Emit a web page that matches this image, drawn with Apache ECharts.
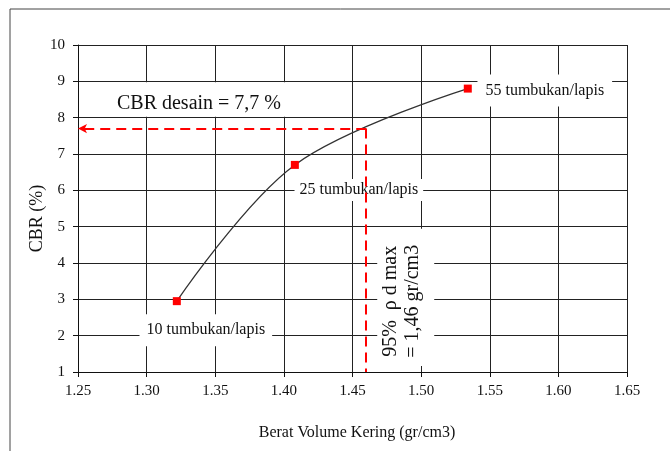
<!DOCTYPE html>
<html>
<head>
<meta charset="utf-8">
<script src="https://cdn.jsdelivr.net/npm/echarts@6/dist/echarts.min.js"></script>
<style>
html,body{margin:0;padding:0;background:#fff;}
#chart{width:670px;height:451px;}
</style>
</head>
<body>
<div id="chart"></div>
<script>
// ---- data ----
var dryDensity = [1.322, 1.408, 1.534];
var cbrValues = [2.95, 6.7, 8.8];
var blowLabels = ['10 tumbukan/lapis', '25 tumbukan/lapis', '55 tumbukan/lapis'];
var designDensity = 1.46;
var designCBR = 7.7;
var designCBRText = 'CBR desain = 7,7 %';
var densityText = '95%  \u03c1 d max\n= 1,46 gr/cm3';
var xAxisName = 'Berat Volume Kering (gr/cm3)';
var yAxisName = 'CBR (%)';

var FONT = '"Liberation Serif", "Times New Roman", serif';
var labelOffsets = [[29, 29], [64, 25], [77, 2]];
var labelPads = [[8, 7], [3, 5], [8, 8]];

var chart = echarts.init(document.getElementById('chart'), null, {renderer: 'canvas'});

var pts = dryDensity.map(function (x, i) {
  return {
    value: [x, cbrValues[i]],
    label: {
      show: true,
      formatter: blowLabels[i],
      position: 'inside',
      offset: labelOffsets[i],
      color: '#111',
      fontFamily: FONT,
      fontSize: 16,
      backgroundColor: '#fff',
      padding: labelPads[i]
    }
  };
});

var option = {
  animation: false,
  backgroundColor: '#fff',
  grid: {left: 78, right: 43, top: 45, bottom: 79, containLabel: false},
  xAxis: {
    type: 'value', min: 1.25, max: 1.65, interval: 0.05,
    name: xAxisName, nameLocation: 'middle', nameGap: 53, nameMoveOverlap: false,
    nameTextStyle: {fontFamily: FONT, fontSize: 16, color: '#111', padding: [0, 0, 0, 9]},
    axisLine: {show: true, onZero: false, lineStyle: {color: '#111', width: 1}},
    axisTick: {show: true, length: 5, lineStyle: {color: '#111'}},
    axisLabel: {fontFamily: FONT, fontSize: 15, color: '#111', margin: 12,
      formatter: function (v) { return v.toFixed(2); }},
    splitLine: {show: true, lineStyle: {color: '#222', width: 1}}
  },
  yAxis: {
    type: 'value', min: 1, max: 10, interval: 1,
    name: yAxisName, nameLocation: 'middle', nameGap: 32, nameMoveOverlap: false,
    nameTextStyle: {fontFamily: FONT, fontSize: 18, color: '#111', padding: [0, 20, 0, 0]},
    axisLine: {show: true, onZero: false, lineStyle: {color: '#111', width: 1}},
    axisTick: {show: true, length: 5, lineStyle: {color: '#111'}},
    axisLabel: {fontFamily: FONT, fontSize: 15, color: '#111', margin: 13},
    splitLine: {show: true, lineStyle: {color: '#222', width: 1}}
  },
  series: [{
    type: 'line',
    data: pts,
    smooth: 0.35,
    symbol: 'rect',
    symbolSize: 8,
    showAllSymbol: true,
    itemStyle: {color: '#ff0000'},
    lineStyle: {color: '#333', width: 1.3},
    z: 3,
    markLine: {
      silent: true,
      animation: false,
      symbol: ['none', 'arrow'],
      symbolSize: [7, 9],
      label: {show: false},
      lineStyle: {color: '#ff0000', width: 2, type: [10, 6]},
      data: [
        [{coord: [designDensity, designCBR], symbol: 'none'}, {coord: [1.25, designCBR], symbol: 'arrow'}],
        [{coord: [designDensity, designCBR], symbol: 'none'}, {coord: [designDensity, 1], symbol: 'none'}]
      ]
    }
  }]
};
chart.setOption(option);

// annotations anchored through the chart's scales
var p9 = chart.convertToPixel({gridIndex: 0}, [1.25, 9]);
var p8 = chart.convertToPixel({gridIndex: 0}, [1.45, 8]);
var p5 = chart.convertToPixel({gridIndex: 0}, [designDensity, 5]);
var p1 = chart.convertToPixel({gridIndex: 0}, [1.50, 1]);

chart.setOption({
  graphic: [
    {type: 'rect', silent: true, z: 100,
      shape: {x: 10, y: 9, width: 720, height: 520},
      style: {fill: 'none', stroke: '#444', lineWidth: 1}},
    {type: 'rect', silent: true, z: 50,
      shape: {x: p9[0] + 2, y: p9[1] + 1, width: p8[0] - p9[0] - 40, height: p8[1] - p9[1] - 2},
      style: {fill: '#fff'}},
    {type: 'text', silent: true, z: 51,
      x: p9[0] + 121, y: (p9[1] + p8[1]) / 2 + 4,
      style: {text: designCBRText, font: '20px ' + FONT, fill: '#111', align: 'center', verticalAlign: 'middle'}},
    {type: 'rect', silent: true, z: 50,
      shape: {x: p5[0] + 11, y: p5[1] + 2, width: 57, height: p1[1] - p5[1] - 8},
      style: {fill: '#fff'}},
    {type: 'text', silent: true, z: 51,
      x: p5[0] + 36, y: (p5[1] + p1[1]) / 2 + 2, rotation: Math.PI / 2,
      style: {text: densityText, font: '20px ' + FONT, fill: '#111', align: 'center', verticalAlign: 'middle', lineHeight: 22}}
  ]
});
</script>
</body>
</html>
